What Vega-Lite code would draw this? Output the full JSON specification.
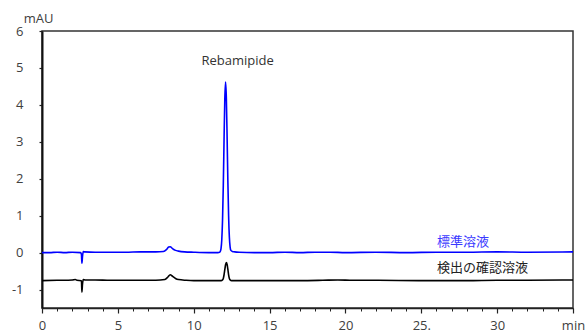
{
  "$schema": "https://vega.github.io/schema/vega-lite/v6.json",
  "width": 531,
  "height": 277,
  "autosize": "none",
  "padding": {"left": 42, "top": 31, "right": 14, "bottom": 26},
  "background": "white",
  "config": {
    "view": {"stroke": "#333333", "strokeWidth": 1.5},
    "font": "Open Sans",
    "axis": {"labelFont": "Open Sans", "labelFontSize": 13, "labelColor": "#404040", "grid": false, "tickColor": "#222222", "domainColor": "#222222"}
  },
  "datasets": {
    "trace": [
      {"t":0,"v":0.0,"s":"std"},{"t":0.5,"v":0.0,"s":"std"},{"t":1,"v":0.01,"s":"std"},{"t":1.5,"v":0.0,"s":"std"},{"t":2,"v":0.01,"s":"std"},{"t":2.55,"v":0.0,"s":"std"},{"t":2.6,"v":-0.05,"s":"std"},{"t":2.63,"v":-0.29,"s":"std"},{"t":2.67,"v":-0.1,"s":"std"},{"t":2.72,"v":0.03,"s":"std"},{"t":2.8,"v":0.02,"s":"std"},{"t":3.5,"v":0.01,"s":"std"},{"t":4.5,"v":0.01,"s":"std"},{"t":5.5,"v":0.01,"s":"std"},{"t":6.5,"v":0.02,"s":"std"},{"t":7.5,"v":0.02,"s":"std"},{"t":8.0,"v":0.03,"s":"std"},{"t":8.2,"v":0.08,"s":"std"},{"t":8.35,"v":0.15,"s":"std"},{"t":8.45,"v":0.16,"s":"std"},{"t":8.6,"v":0.11,"s":"std"},{"t":8.8,"v":0.06,"s":"std"},{"t":9.0,"v":0.04,"s":"std"},{"t":9.4,"v":0.02,"s":"std"},{"t":10,"v":0.01,"s":"std"},{"t":11,"v":0.0,"s":"std"},{"t":11.6,"v":0.0,"s":"std"},{"t":11.7,"v":0.01,"s":"std"},{"t":11.75,"v":0.03,"s":"std"},{"t":11.8,"v":0.11,"s":"std"},{"t":11.85,"v":0.35,"s":"std"},{"t":11.9,"v":0.88,"s":"std"},{"t":11.95,"v":1.82,"s":"std"},{"t":12.0,"v":3.06,"s":"std"},{"t":12.05,"v":4.17,"s":"std"},{"t":12.1,"v":4.62,"s":"std"},{"t":12.15,"v":4.2,"s":"std"},{"t":12.2,"v":3.15,"s":"std"},{"t":12.25,"v":1.95,"s":"std"},{"t":12.3,"v":1.0,"s":"std"},{"t":12.35,"v":0.42,"s":"std"},{"t":12.4,"v":0.15,"s":"std"},{"t":12.45,"v":0.06,"s":"std"},{"t":12.55,"v":0.03,"s":"std"},{"t":12.7,"v":0.02,"s":"std"},{"t":13,"v":0.01,"s":"std"},{"t":14,"v":0.0,"s":"std"},{"t":15,"v":0.0,"s":"std"},{"t":16,"v":0.01,"s":"std"},{"t":17,"v":0.0,"s":"std"},{"t":18,"v":0.01,"s":"std"},{"t":19,"v":0.01,"s":"std"},{"t":20,"v":0.0,"s":"std"},{"t":22,"v":0.01,"s":"std"},{"t":24,"v":0.0,"s":"std"},{"t":26,"v":0.01,"s":"std"},{"t":28,"v":0.01,"s":"std"},{"t":30,"v":0.02,"s":"std"},{"t":32,"v":0.01,"s":"std"},{"t":35,"v":0.02,"s":"std"},
      {"t":0,"v":-0.76,"s":"sample"},{"t":1,"v":-0.75,"s":"sample"},{"t":2,"v":-0.74,"s":"sample"},{"t":2.2,"v":-0.73,"s":"sample"},{"t":2.3,"v":-0.75,"s":"sample"},{"t":2.6,"v":-0.76,"s":"sample"},{"t":2.63,"v":-1.07,"s":"sample"},{"t":2.67,"v":-0.85,"s":"sample"},{"t":2.72,"v":-0.73,"s":"sample"},{"t":2.85,"v":-0.74,"s":"sample"},{"t":3.5,"v":-0.74,"s":"sample"},{"t":4.5,"v":-0.75,"s":"sample"},{"t":5.5,"v":-0.75,"s":"sample"},{"t":6.5,"v":-0.75,"s":"sample"},{"t":7.5,"v":-0.75,"s":"sample"},{"t":8.1,"v":-0.73,"s":"sample"},{"t":8.3,"v":-0.66,"s":"sample"},{"t":8.45,"v":-0.6,"s":"sample"},{"t":8.6,"v":-0.64,"s":"sample"},{"t":8.8,"v":-0.7,"s":"sample"},{"t":9.0,"v":-0.73,"s":"sample"},{"t":9.5,"v":-0.75,"s":"sample"},{"t":10,"v":-0.76,"s":"sample"},{"t":11,"v":-0.76,"s":"sample"},{"t":11.8,"v":-0.76,"s":"sample"},{"t":11.9,"v":-0.74,"s":"sample"},{"t":11.95,"v":-0.7,"s":"sample"},{"t":12.0,"v":-0.6,"s":"sample"},{"t":12.05,"v":-0.46,"s":"sample"},{"t":12.1,"v":-0.33,"s":"sample"},{"t":12.15,"v":-0.27,"s":"sample"},{"t":12.2,"v":-0.32,"s":"sample"},{"t":12.25,"v":-0.45,"s":"sample"},{"t":12.3,"v":-0.6,"s":"sample"},{"t":12.35,"v":-0.7,"s":"sample"},{"t":12.4,"v":-0.74,"s":"sample"},{"t":12.5,"v":-0.76,"s":"sample"},{"t":13,"v":-0.76,"s":"sample"},{"t":15,"v":-0.76,"s":"sample"},{"t":17,"v":-0.76,"s":"sample"},{"t":18.5,"v":-0.75,"s":"sample"},{"t":19.5,"v":-0.74,"s":"sample"},{"t":20.5,"v":-0.75,"s":"sample"},{"t":22,"v":-0.75,"s":"sample"},{"t":25,"v":-0.76,"s":"sample"},{"t":28,"v":-0.76,"s":"sample"},{"t":30,"v":-0.75,"s":"sample"},{"t":32,"v":-0.75,"s":"sample"},{"t":35,"v":-0.74,"s":"sample"}
    ],
    "peaklabel": [
      {"x":12.89,"y":5.2,"label":"Rebamipide"}
    ],
    "labels": [
      {"x":26.04,"y":0.3,"label":"標準溶液","kind":"std"},
      {"x":26.04,"y":-0.42,"label":"検出の確認溶液","kind":"sample"}
    ]
  },
  "layer": [
    {
      "data": {"name": "trace"},
      "mark": {"type": "line", "strokeWidth": 1.6, "interpolate": "monotone"},
      "encoding": {
        "x": {"field": "t", "type": "quantitative", "scale": {"domain": [0, 35], "nice": false, "zero": false},
          "axis": {"orient": "bottom", "title": null, "values": [0,5,10,15,20,25,30,35], "tickSize": 5, "tickWidth": 1.2, "domainWidth": 1.5, "labelPadding": 6,
            "labelExpr": "datum.value == 35 ? 'min' : (datum.value == 25 ? '25.' : datum.label)", "labelFlush": false}},
        "y": {"field": "v", "type": "quantitative", "scale": {"domain": [-1.5, 6], "nice": false, "zero": false},
          "axis": {"orient": "left", "values": [-1,0,1,2,3,4,5,6], "tickSize": 3, "tickWidth": 1.2, "domainWidth": 2, "domainColor": "#111111", "labelPadding": 16,
            "labelExpr": "replace(datum.label, '\u2212', '-')",
            "title": "mAU", "titleAngle": 0, "titleAlign": "center", "titleBaseline": "middle", "titleX": -4, "titleY": -13,
            "titleFont": "Open Sans", "titleFontSize": 13, "titleFontWeight": "normal", "titleColor": "#404040"}},
        "color": {"field": "s", "type": "nominal", "scale": {"domain": ["std","sample"], "range": ["#0000ff","#000000"]}, "legend": null},
        "detail": {"field": "s"}
      }
    },
    {
      "data": {"name": "peaklabel"},
      "mark": {"type": "text", "fontSize": 13, "font": "Open Sans", "baseline": "middle", "align": "center", "color": "#333333"},
      "encoding": {
        "x": {"field": "x", "type": "quantitative", "scale": {"domain": [0, 35], "nice": false, "zero": false},
          "axis": {"orient": "bottom", "title": null, "values": [0,1,2,3,4,5,6,7,8,9,10,11,12,13,14,15,16,17,18,19,20,21,22,23,24,25,26,27,28,29,30,31,32,33,34,35], "labels": false, "tickSize": 3, "tickWidth": 1, "domain": false}},
        "y": {"field": "y", "type": "quantitative", "scale": {"domain": [-1.5, 6], "nice": false, "zero": false}, "axis": null},
        "text": {"field": "label"}
      }
    },
    {
      "data": {"name": "labels"},
      "mark": {"type": "text", "fontSize": 13, "font": "Noto Sans CJK JP", "baseline": "middle", "align": "left"},
      "encoding": {
        "x": {"field": "x", "type": "quantitative", "scale": {"domain": [0, 35], "nice": false, "zero": false}, "axis": null},
        "y": {"field": "y", "type": "quantitative", "scale": {"domain": [-1.5, 6], "nice": false, "zero": false}, "axis": null},
        "text": {"field": "label"},
        "color": {"field": "kind", "type": "nominal", "scale": {"domain": ["std","sample"], "range": ["#3a3aff","#222222"]}, "legend": null}
      }
    }
  ],
  "resolve": {"axis": {"x": "independent", "y": "independent"}, "scale": {"color": "independent"}}
}
